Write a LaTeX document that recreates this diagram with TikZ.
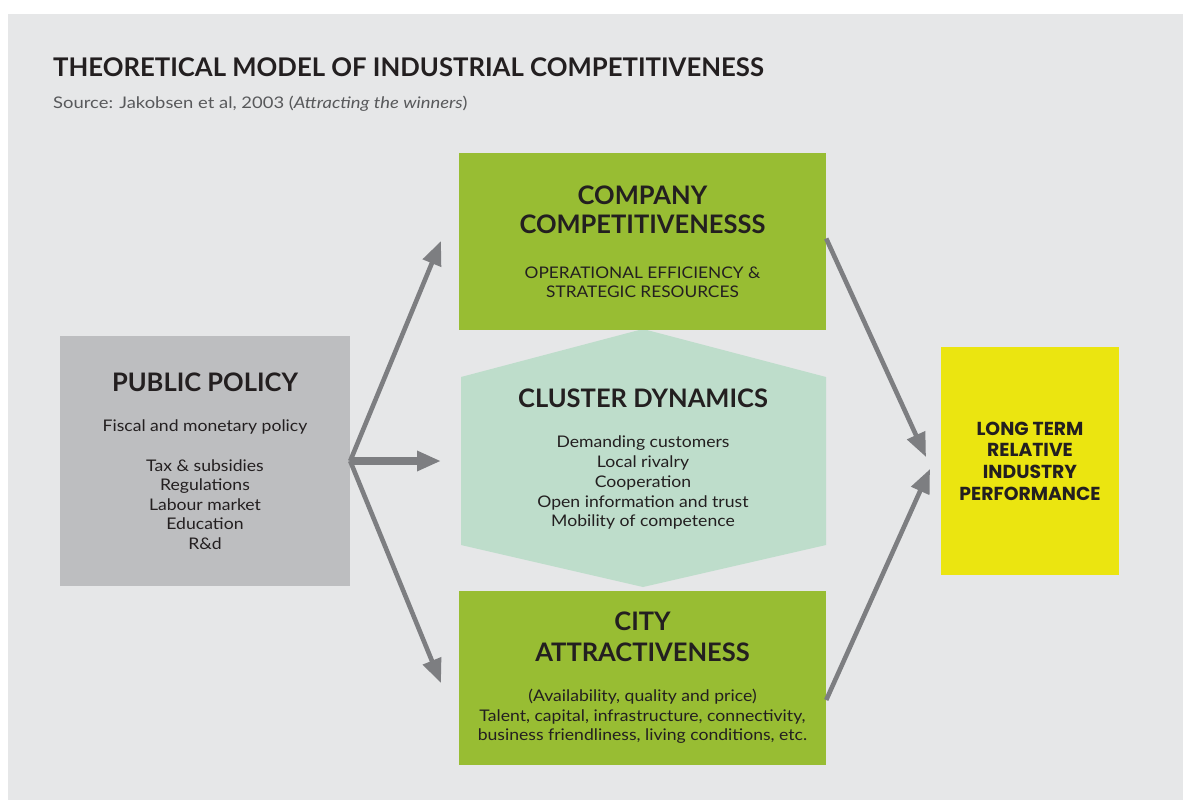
\documentclass[tikz,border=0pt]{standalone}
\usepackage{fontspec}
\setmainfont{Lato}
\newfontfamily\headfont{Lato}
\newfontfamily\bodyfont[FakeStretch=1.1]{Lato}
\newfontfamily\capsfont[FakeStretch=1.08]{Lato}
\newfontfamily\sourcefont[FakeStretch=1.15]{Lato}
\newfontfamily\perffont{Poppins}
\usetikzlibrary{arrows.meta,calc}

\definecolor{pagegray}{HTML}{E6E7E8}
\definecolor{policygray}{HTML}{BDBEC0}
\definecolor{leafgreen}{HTML}{98BD33}
\definecolor{mint}{HTML}{BEDDCB}
\definecolor{lemon}{HTML}{EBE510}
\definecolor{arrowgray}{HTML}{7D7E81}
\definecolor{ink}{HTML}{231F20}
\definecolor{sourcegray}{HTML}{58595B}

\newcommand{\hdfont}{\headfont\fontsize{25.5}{29}\selectfont\bfseries}

\begin{document}
\begin{tikzpicture}[x=1pt,y=-1pt,
  box/.style={rectangle, inner sep=0pt, align=center, text=ink,
    font=\bodyfont\fontsize{16}{19.5}\selectfont},
  flow/.style={draw=arrowgray, line width=4.6pt,
    -{Triangle[length=24pt,width=19pt]}},
  mainflow/.style={flow, line width=7.5pt}]

\useasboundingbox (0,0) rectangle (1183,800);
\fill[white] (0,0) rectangle (1183,800);
\fill[pagegray] (8,14) rectangle (1183,800);

% heading
\node[anchor=base west, inner sep=0pt, text=ink,
      font=\headfont\fontsize{25.7}{30}\selectfont\bfseries] (title) at (53,77)
  {THEORETICAL MODEL OF INDUSTRIAL COMPETITIVENESS};
\node[anchor=base west, inner sep=0pt, text=sourcegray,
      font=\sourcefont\fontsize{16}{18}\selectfont] (source) at (53,108)
  {Source: Jakobsen et al, 2003 (\textit{Attracting the winners})};

% cluster hexagon
\fill[mint] (643,329) -- (826,377) -- (826,545) -- (643,587)
  -- (461,545) -- (461,377) -- cycle;
\node[box, font=\bodyfont\fontsize{16}{19.75}\selectfont] (cd) at (643,459)
  {{\hdfont CLUSTER DYNAMICS}\\[21pt]
   Demanding customers\\ Local rivalry\\ Cooperation\\
   Open information and trust\\ Mobility of competence};

% public policy
\node[box, fill=policygray, minimum width=290pt, minimum height=250pt] (pp) at (205,461)
  {{\hdfont PUBLIC POLICY}\\[20.5pt]
   Fiscal and monetary policy\\[20.5pt]
   Tax \& subsidies\\ Regulations\\ Labour market\\ Education\\ R\&d};

% company competitiveness
\node[box, fill=leafgreen, minimum width=367pt, minimum height=177pt,
      font=\capsfont\fontsize{16}{19}\selectfont] (cc) at (642.5,241.5)
  {{\hdfont COMPANY}\\[10pt]{\hdfont COMPETITIVENESSS}\\[26pt]
   OPERATIONAL EFFICIENCY \&\\ STRATEGIC RESOURCES};

% city attractiveness
\node[box, fill=leafgreen, minimum width=367pt, minimum height=174pt] (ca) at (642.5,678)
  {{\hdfont CITY}\\[11.5pt]{\hdfont ATTRACTIVENESS}\\[20.5pt]
   (Availability, quality and price)\\
   Talent, capital, infrastructure, connectivity,\\
   business friendliness, living conditions, etc.};

% outcome
\node[box, fill=lemon, minimum width=178pt, minimum height=228pt,
      font=\perffont\fontsize{18.8}{21.7}\selectfont\bfseries] (lt) at (1030,461)
  {LONG TERM\\ RELATIVE\\ INDUSTRY\\ PERFORMANCE};

% arrow ends
\coordinate (toCC) at (441,241);
\coordinate (toCD) at (441,461);
\coordinate (toCA) at (441,683);
\coordinate (fromCC) at ([yshift=3pt]cc.east);
\coordinate (fromCA) at ([yshift=-22pt]ca.east);
\coordinate (inA) at (926,457);
\coordinate (inB) at (930,469);

\draw[flow] (pp.east) -- (toCC);
\draw[mainflow] (pp.east) -- (toCD);
\draw[flow] (pp.east) -- (toCA);
\draw[flow] (fromCC) -- (inA);
\draw[flow] (fromCA) -- (inB);
\end{tikzpicture}
\end{document}
